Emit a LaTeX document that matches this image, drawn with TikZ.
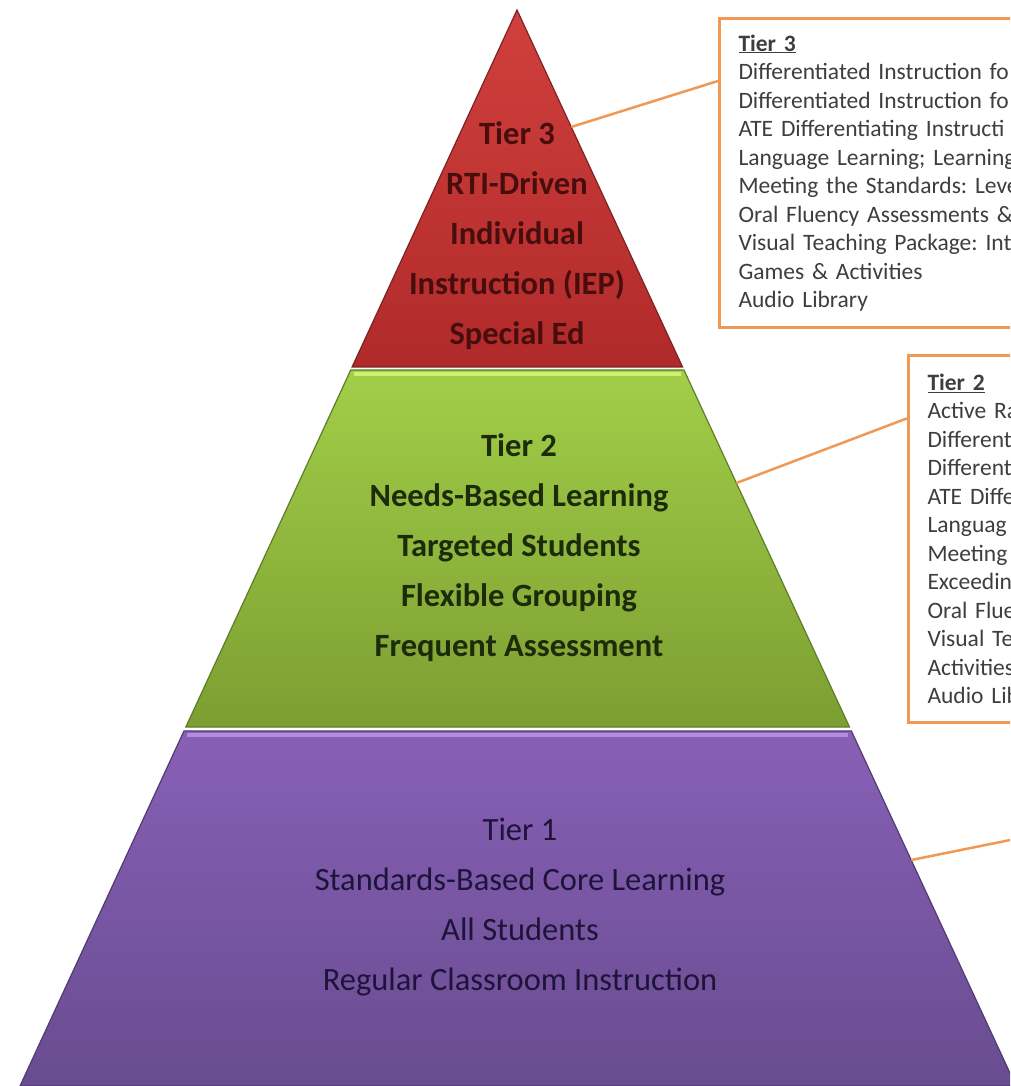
\documentclass[tikz,border=0pt]{standalone}
\usepackage{fontspec}
\setmainfont{Carlito}
\usetikzlibrary{calc,positioning}
\frenchspacing

\definecolor{redtop}{RGB}{208,64,60}
\definecolor{redbot}{RGB}{176,42,42}
\definecolor{redline}{RGB}{125,35,35}
\definecolor{redtext}{RGB}{72,14,14}
\definecolor{greentop}{RGB}{162,206,72}
\definecolor{greenbot}{RGB}{124,158,50}
\definecolor{greenline}{RGB}{95,125,40}
\definecolor{greenhi}{RGB}{205,242,112}
\definecolor{greentext}{RGB}{28,44,10}
\definecolor{purpletop}{RGB}{136,96,182}
\definecolor{purplebot}{RGB}{104,76,144}
\definecolor{purpleline}{RGB}{80,60,115}
\definecolor{purplehi}{RGB}{178,142,222}
\definecolor{purpletext}{RGB}{30,20,58}
\definecolor{callout}{RGB}{240,152,84}
\definecolor{boxtext}{RGB}{62,62,62}

\tikzset{
  tierlabel/.style={align=center, text=#1, font=\fontsize{32.5}{50}\selectfont\bfseries},
  notebox/.style={draw=callout, line width=3pt, fill=white, anchor=north west, align=left,
    text width=310pt, inner xsep=19pt, text=boxtext, font=\fontsize{23.5}{28.5}\selectfont},
  callline/.style={draw=callout, line width=2.5pt}
}

\begin{document}
\begin{tikzpicture}[x=1pt,y=-1pt]
  \useasboundingbox (0,0) rectangle (1010,1086);
  \clip (0,0) rectangle (1010,1086);
  \fill[white] (0,0) rectangle (1010,1086);
  \coordinate (apex) at (517,10);
  \coordinate (bl) at (20,1086);
  \coordinate (br) at (1016,1086);
  % bands of the pyramid
  \foreach \ya/\yb/\col/\n in {10/367/red/three, 370/727/green/two, 731/1086/purple/one} {
    \pgfmathsetmacro\ta{(\ya-10)/1076}
    \pgfmathsetmacro\tb{(\yb-10)/1076}
    \path[top color=\col top, bottom color=\col bot, draw=\col line, line width=1.2pt]
      ($(apex)!\ta!(bl)$) coordinate (\n-tl) -- ($(apex)!\tb!(bl)$) coordinate (\n-bl)
      -- ($(apex)!\tb!(br)$) coordinate (\n-br) -- ($(apex)!\ta!(br)$) coordinate (\n-tr) -- cycle;
  }
  \draw[greenhi, line width=4pt] ($(two-tl)+(3,4)$) -- ($(two-tr)+(-3,4)$);
  \draw[purplehi, line width=4pt] ($(one-tl)+(3,4)$) -- ($(one-tr)+(-3,4)$);

  \node[tierlabel=redtext] (tier3) at (517,236)
    {Tier 3\\RTI-Driven\\Individual\\Instruction (IEP)\\Special Ed};
  \node[tierlabel=greentext] (tier2) at (519,548)
    {Tier 2\\Needs-Based Learning\\Targeted Students\\Flexible Grouping\\Frequent Assessment};
  \node[tierlabel=purpletext, font=\fontsize{32.5}{50}\selectfont] (tier1) at (520,907)
    {Tier 1\\Standards-Based Core Learning\\All Students\\Regular Classroom Instruction};

  \node[notebox, minimum height=309pt] (box3) at (718,17)
    {\underline{\textbf{Tier 3}}\\
     Differentiated Instruction fo\\
     Differentiated Instruction fo\\
     ATE Differentiating Instructi\\
     Language Learning; Learning\\
     Meeting the Standards: Leve\\
     Oral Fluency Assessments \&\\
     Visual Teaching Package: Int\\
     Games \& Activities\\
     Audio Library};
  \node[notebox, minimum height=367pt] (box2) at (907,354)
    {\underline{\textbf{Tier 2}}\\
     Active Ra\\
     Different\\
     Different\\
     ATE Diffe\\
     Languag\\
     Meeting\\
     Exceedin\\
     Oral Flue\\
     Visual Te\\
     Activities\\
     Audio Lib};

  \coordinate (note1) at (1030,836);
  \draw[callline] ($(apex)!0.1087!(br)$) -- ($(box3.north west)!0.205!(box3.south west)$);
  \draw[callline] ($(apex)!0.4396!(br)$) -- ($(box2.north west)!0.174!(box2.south west)$);
  \draw[callline] ($(apex)!0.79!(br)$) -- (note1);
\end{tikzpicture}
\end{document}
